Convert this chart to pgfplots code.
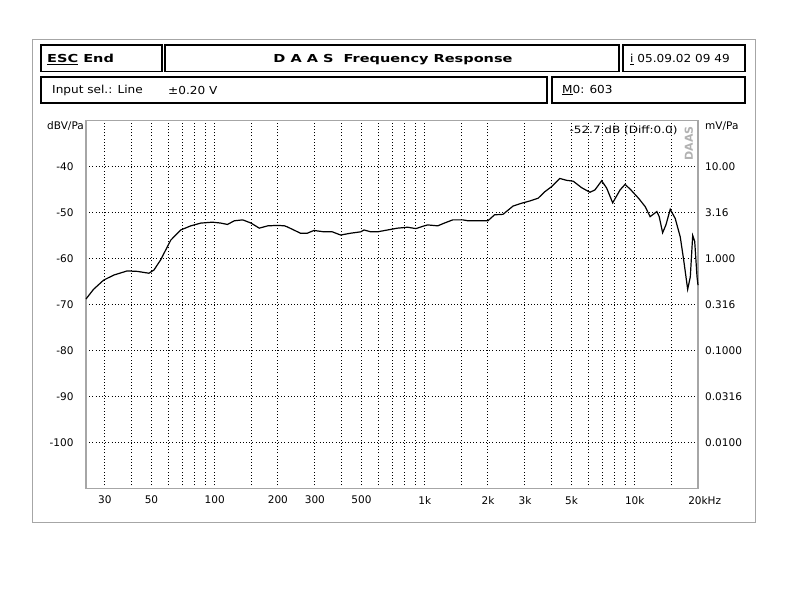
\documentclass[border=0pt]{standalone}
\usepackage{fontspec}
\setmainfont{DejaVu Sans}
\usepackage{pgfplots}
\pgfplotsset{compat=1.18}
\newcommand\hx[1]{\scalebox{1.1}[1]{#1}}
\newcommand\bx[1]{\scalebox{1.32}[1]{\bfseries #1}}
\pgfplotstableread{
f db
24.4 -68.8
26.5 -66.7
29.6 -64.7
33.1 -63.6
38.3 -62.7
42.8 -62.8
48.6 -63.2
51.4 -62.5
55.3 -60.3
61.8 -56.0
68.9 -53.8
77.0 -52.9
85.9 -52.3
97.6 -52.1
107 -52.3
115 -52.6
124 -51.8
136 -51.6
149 -52.3
163 -53.4
179 -52.9
200 -52.8
215 -52.9
221 -53.1
256 -54.5
276 -54.5
297 -53.9
331 -54.2
363 -54.2
398 -54.9
444 -54.5
496 -54.2
514 -53.8
554 -54.2
596 -54.2
665 -53.8
743 -53.4
829 -53.2
908 -53.5
995 -52.9
1033 -52.7
1153 -52.9
1240 -52.3
1360 -51.6
1519 -51.6
1605 -51.8
1999 -51.8
2150 -50.5
2358 -50.4
2633 -48.6
2884 -48.0
3160 -47.5
3466 -46.9
3726 -45.5
4011 -44.4
4396 -42.6
4732 -43.0
5094 -43.2
5582 -44.6
6114 -45.6
6460 -45.1
6956 -43.1
7349 -44.7
7850 -47.9
8508 -45.1
8988 -43.9
9497 -44.9
10420 -46.9
11200 -48.7
11830 -50.9
12740 -49.8
13070 -50.9
13570 -54.4
14070 -52.7
14750 -49.3
15580 -51.3
16460 -55.3
17090 -60.3
17860 -66.7
18380 -64.0
18870 -55.0
19290 -56.3
19790 -64.0
20000 -65.8
}\resp
\begin{document}
\begin{tikzpicture}[x=1pt,y=1pt]
\path[use as bounding box] (0,0) rectangle (790,590);
% outer frame
\draw[gray!70, line width=1pt] (32,550) rectangle (755,68);
% header boxes
\begin{scope}[line width=1.6pt]
\draw (41,545) rectangle (162,518.5);
\draw (165,545) rectangle (619,518.5);
\draw (623,545) rectangle (745,518.5);
\draw (41,513) rectangle (547,487);
\draw (552,513) rectangle (745,487);
\end{scope}
\node[anchor=west, inner sep=0, font=\fontsize{11}{13}\selectfont] at (47,530.5) {\bx{\underline{ESC} End}};
\node[inner sep=0, font=\fontsize{11}{13}\selectfont] at (393,530.5) {\bx{D A A S\ \ Frequency Response}};
\node[anchor=west, inner sep=0, font=\fontsize{11}{13}\selectfont] at (630,530.5) {\hx{\underline{i} 05.09.02 09 49}};
\node[anchor=west, inner sep=0, font=\fontsize{11}{13}\selectfont] at (52,500) {\hx{Input sel.: Line}};
\node[anchor=west, inner sep=0, font=\fontsize{11}{13}\selectfont] at (168,500) {\hx{±0.20 V}};
\node[anchor=west, inner sep=0, font=\fontsize{11}{13}\selectfont] at (562,500) {\hx{\underline{M}0: 603}};
\begin{axis}[
  at={(86pt,101.5pt)}, anchor=south west,
  scale only axis, width=612pt, height=368pt,
  xmode=log, xmin=24.4, xmax=20000,
  ymin=-110, ymax=-30,
  xtick={30,40,50,60,70,80,90,100,150,200,300,400,500,600,700,800,900,1000,1500,2000,3000,4000,5000,6000,7000,8000,9000,10000,15000,20000},
  xticklabels={30,,50,,,,,100,,200,300,,500,,,,,1k,,2k,3k,,5k,,,,,10k,,20k\rlap{Hz}},
  ytick={-100,-90,-80,-70,-60,-50,-40},
  yticklabels={-100,-90,-80,-70,-60,-50,-40},
  major tick length=0pt,
  tick label style={font=\fontsize{10.5}{12}\selectfont},
  xticklabel style={yshift=-4pt},
  yticklabel style={xshift=-9pt},
  grid=major,
  major grid style={black, line width=1pt, dash pattern=on 1pt off 2.2pt},
  axis line style={gray!70, line width=1.6pt},
  clip=false,
]
\addplot[black, line width=1.2pt] table[x=f, y=db] {\resp};
\node[anchor=north east, inner sep=0, font=\fontsize{10.5}{12}\selectfont] at (rel axis cs:0,1) [xshift=-2pt, yshift=-1pt] {dBV/Pa};
\node[anchor=north west, inner sep=0, font=\fontsize{10.5}{12}\selectfont] at (rel axis cs:1,1) [xshift=7pt, yshift=-1pt] {mV/Pa};
\node[anchor=west, inner sep=0, xshift=7pt, font=\fontsize{10.5}{12}\selectfont] at (axis cs:20000,-40) {10.00};
\node[anchor=west, inner sep=0, xshift=7pt, font=\fontsize{10.5}{12}\selectfont] at (axis cs:20000,-50) {3.16};
\node[anchor=west, inner sep=0, xshift=7pt, font=\fontsize{10.5}{12}\selectfont] at (axis cs:20000,-60) {1.000};
\node[anchor=west, inner sep=0, xshift=7pt, font=\fontsize{10.5}{12}\selectfont] at (axis cs:20000,-70) {0.316};
\node[anchor=west, inner sep=0, xshift=7pt, font=\fontsize{10.5}{12}\selectfont] at (axis cs:20000,-80) {0.1000};
\node[anchor=west, inner sep=0, xshift=7pt, font=\fontsize{10.5}{12}\selectfont] at (axis cs:20000,-90) {0.0316};
\node[anchor=west, inner sep=0, xshift=7pt, font=\fontsize{10.5}{12}\selectfont] at (axis cs:20000,-100) {0.0100};
\node[anchor=east, inner sep=0, font=\fontsize{10}{12}\selectfont] at (axis cs:16000,-32.1) {\scalebox{1.2}[1]{-52.7 dB (Diff:0.0)}};
\node[rotate=90, inner sep=0, text=gray!60, font=\fontsize{11}{12}\selectfont\bfseries] at (axis cs:18100,-35) {DAAS};
\end{axis}
\end{tikzpicture}
\end{document}
